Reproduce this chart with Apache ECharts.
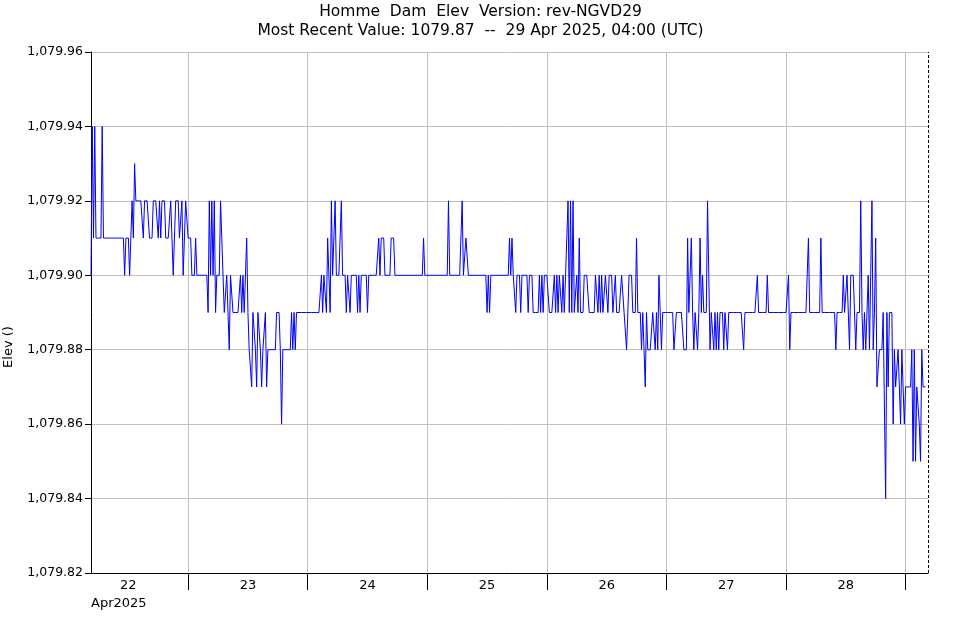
<!DOCTYPE html>
<html>
<head>
<meta charset="utf-8">
<script src="https://cdn.jsdelivr.net/npm/echarts@6/dist/echarts.min.js"></script>
<style>
html,body{margin:0;padding:0;background:#ffffff;}
#chart{width:961px;height:620px;}
</style>
</head>
<body>
<div id="chart"></div>
<script>
// ---------------- DATA ----------------
const titleLines = ['Homme  Dam  Elev  Version: rev-NGVD29', 'Most Recent Value: 1079.87  --  29 Apr 2025, 04:00 (UTC)'];
const yAxisName = 'Elev ()';
const monthLabel = 'Apr2025';
const axisStartUTC = '2025-04-22T04:30:00Z';
const axisEndUTC = '2025-04-29T04:30:00Z';
const seriesStartUTC = '2025-04-22T04:30:00Z';
const sampleMinutes = 15;
const dayBoundariesUTC = ['2025-04-23T00:00:00Z','2025-04-24T00:00:00Z','2025-04-25T00:00:00Z','2025-04-26T00:00:00Z','2025-04-27T00:00:00Z','2025-04-28T00:00:00Z','2025-04-29T00:00:00Z'];
const dayLabelTimesUTC = ['2025-04-22T12:00:00Z','2025-04-23T12:00:00Z','2025-04-24T12:00:00Z','2025-04-25T12:00:00Z','2025-04-26T12:00:00Z','2025-04-27T12:00:00Z','2025-04-28T12:00:00Z'];
const dayLabels = ['22','23','24','25','26','27','28'];
const yMin = 1079.82, yMax = 1079.96, yStep = 0.02;

// 15-minute elevations (ft), starting 22 Apr 2025 04:30 UTC
const elev = [
1079.90,1079.94,1079.91,1079.94,1079.91,1079.91,1079.91,1079.91,1079.91,1079.94,
1079.91,1079.91,1079.91,1079.91,1079.91,1079.91,1079.91,1079.91,1079.91,1079.91,
1079.91,1079.91,1079.91,1079.91,1079.91,1079.91,1079.91,1079.90,1079.91,1079.91,
1079.91,1079.90,1079.91,1079.92,1079.91,1079.93,1079.92,1079.92,1079.92,1079.92,
1079.92,1079.92,1079.91,1079.92,1079.92,1079.92,1079.92,1079.91,1079.91,1079.91,
1079.92,1079.92,1079.92,1079.92,1079.91,1079.92,1079.91,1079.92,1079.92,1079.92,
1079.91,1079.91,1079.91,1079.91,1079.92,1079.92,1079.90,1079.91,1079.92,1079.92,
1079.92,1079.91,1079.91,1079.92,1079.90,1079.90,1079.92,1079.92,1079.91,1079.91,
1079.91,1079.90,1079.90,1079.90,1079.91,1079.90,1079.90,1079.90,1079.90,1079.90,
1079.90,1079.90,1079.90,1079.90,1079.89,1079.92,1079.90,1079.92,1079.90,1079.92,
1079.89,1079.90,1079.90,1079.90,1079.92,1079.91,1079.91,1079.89,1079.89,1079.90,
1079.90,1079.88,1079.90,1079.90,1079.89,1079.89,1079.89,1079.89,1079.89,1079.89,
1079.90,1079.89,1079.90,1079.89,1079.89,1079.91,1079.89,1079.88,1079.88,1079.87,
1079.89,1079.89,1079.88,1079.87,1079.89,1079.89,1079.88,1079.87,1079.88,1079.88,
1079.89,1079.87,1079.88,1079.88,1079.88,1079.88,1079.88,1079.88,1079.88,1079.89,
1079.89,1079.89,1079.88,1079.86,1079.88,1079.88,1079.88,1079.88,1079.88,1079.88,
1079.88,1079.89,1079.88,1079.89,1079.88,1079.89,1079.89,1079.89,1079.89,1079.89,
1079.89,1079.89,1079.89,1079.89,1079.89,1079.89,1079.89,1079.89,1079.89,1079.89,
1079.89,1079.89,1079.89,1079.89,1079.89,1079.90,1079.89,1079.90,1079.90,1079.89,
1079.91,1079.90,1079.89,1079.92,1079.90,1079.90,1079.92,1079.90,1079.90,1079.90,
1079.90,1079.92,1079.90,1079.90,1079.90,1079.89,1079.90,1079.90,1079.89,1079.90,
1079.90,1079.90,1079.90,1079.90,1079.89,1079.90,1079.89,1079.90,1079.90,1079.90,
1079.90,1079.90,1079.89,1079.90,1079.90,1079.90,1079.90,1079.90,1079.90,1079.90,
1079.90,1079.91,1079.90,1079.91,1079.91,1079.91,1079.90,1079.90,1079.90,1079.90,
1079.90,1079.91,1079.91,1079.91,1079.90,1079.90,1079.90,1079.90,1079.90,1079.90,
1079.90,1079.90,1079.90,1079.90,1079.90,1079.90,1079.90,1079.90,1079.90,1079.90,
1079.90,1079.90,1079.90,1079.90,1079.90,1079.90,1079.90,1079.91,1079.90,1079.90,
1079.90,1079.90,1079.90,1079.90,1079.90,1079.90,1079.90,1079.90,1079.90,1079.90,
1079.90,1079.90,1079.90,1079.90,1079.90,1079.90,1079.90,1079.92,1079.90,1079.90,
1079.90,1079.90,1079.90,1079.90,1079.90,1079.90,1079.90,1079.90,1079.92,1079.90,
1079.90,1079.91,1079.91,1079.90,1079.90,1079.90,1079.90,1079.90,1079.90,1079.90,
1079.90,1079.90,1079.90,1079.90,1079.90,1079.90,1079.90,1079.90,1079.89,1079.90,
1079.89,1079.90,1079.90,1079.90,1079.90,1079.90,1079.90,1079.90,1079.90,1079.90,
1079.90,1079.90,1079.90,1079.90,1079.90,1079.90,1079.91,1079.90,1079.91,1079.90,
1079.90,1079.89,1079.90,1079.90,1079.90,1079.89,1079.90,1079.90,1079.90,1079.90,
1079.90,1079.89,1079.90,1079.90,1079.90,1079.89,1079.89,1079.89,1079.89,1079.89,
1079.90,1079.89,1079.90,1079.89,1079.90,1079.90,1079.90,1079.90,1079.89,1079.89,
1079.89,1079.89,1079.90,1079.89,1079.90,1079.89,1079.90,1079.90,1079.89,1079.90,
1079.89,1079.90,1079.91,1079.92,1079.89,1079.92,1079.89,1079.92,1079.89,1079.89,
1079.90,1079.89,1079.91,1079.89,1079.89,1079.89,1079.90,1079.90,1079.90,1079.90,
1079.89,1079.89,1079.89,1079.89,1079.89,1079.90,1079.90,1079.89,1079.90,1079.89,
1079.90,1079.89,1079.89,1079.90,1079.90,1079.89,1079.90,1079.90,1079.90,1079.89,
1079.89,1079.90,1079.89,1079.89,1079.89,1079.89,1079.90,1079.90,1079.89,1079.89,
1079.88,1079.89,1079.90,1079.90,1079.90,1079.89,1079.89,1079.89,1079.91,1079.89,
1079.89,1079.89,1079.88,1079.89,1079.88,1079.87,1079.89,1079.88,1079.88,1079.88,
1079.88,1079.89,1079.89,1079.88,1079.89,1079.88,1079.90,1079.89,1079.88,1079.89,
1079.89,1079.89,1079.89,1079.89,1079.89,1079.89,1079.89,1079.89,1079.88,1079.88,
1079.89,1079.89,1079.89,1079.89,1079.89,1079.89,1079.88,1079.88,1079.88,1079.91,
1079.89,1079.89,1079.91,1079.89,1079.88,1079.89,1079.89,1079.88,1079.89,1079.91,
1079.89,1079.90,1079.89,1079.89,1079.89,1079.92,1079.90,1079.88,1079.89,1079.89,
1079.88,1079.89,1079.88,1079.89,1079.88,1079.89,1079.89,1079.89,1079.88,1079.89,
1079.89,1079.88,1079.89,1079.89,1079.89,1079.89,1079.89,1079.89,1079.89,1079.89,
1079.89,1079.89,1079.89,1079.89,1079.88,1079.89,1079.89,1079.89,1079.89,1079.89,
1079.89,1079.89,1079.89,1079.89,1079.89,1079.90,1079.89,1079.89,1079.89,1079.89,
1079.89,1079.89,1079.89,1079.90,1079.89,1079.89,1079.89,1079.89,1079.89,1079.89,
1079.89,1079.89,1079.89,1079.89,1079.89,1079.89,1079.89,1079.89,1079.89,1079.89,
1079.90,1079.88,1079.89,1079.89,1079.89,1079.89,1079.89,1079.89,1079.89,1079.89,
1079.89,1079.89,1079.89,1079.89,1079.89,1079.89,1079.91,1079.89,1079.89,1079.89,
1079.89,1079.89,1079.89,1079.89,1079.89,1079.89,1079.91,1079.89,1079.89,1079.89,
1079.89,1079.89,1079.89,1079.89,1079.89,1079.89,1079.89,1079.89,1079.88,1079.89,
1079.89,1079.89,1079.89,1079.89,1079.90,1079.89,1079.89,1079.90,1079.90,1079.88,
1079.90,1079.90,1079.90,1079.90,1079.88,1079.89,1079.89,1079.89,1079.92,1079.89,
1079.88,1079.89,1079.88,1079.88,1079.90,1079.88,1079.90,1079.92,1079.88,1079.89,
1079.91,1079.87,1079.87,1079.88,1079.88,1079.88,1079.89,1079.89,1079.84,1079.89,
1079.87,1079.89,1079.89,1079.89,1079.86,1079.88,1079.87,1079.87,1079.88,1079.88,
1079.86,1079.88,1079.87,1079.86,1079.87,1079.87,1079.87,1079.87,1079.87,1079.88,
1079.85,1079.88,1079.85,1079.87,1079.87,1079.86,1079.85,1079.88,1079.87,1079.87,
1079.87
];

// ---------------- CHART ----------------
const t0 = Date.parse(seriesStartUTC);
const stepMs = sampleMinutes * 60000;
const seriesData = elev.map((v, i) => [t0 + i * stepMs, v]);
const xMin = Date.parse(axisStartUTC);
const xMax = Date.parse(axisEndUTC);
const tickVals = dayBoundariesUTC.map(s => Date.parse(s));
const labelVals = dayLabelTimesUTC.map(s => Date.parse(s));

const FONT = 'DejaVu Sans';
const chart = echarts.init(document.getElementById('chart'), null, {renderer: 'canvas'});
chart.setOption({
  animation: false,
  backgroundColor: '#ffffff',
  grid: {left: 91, right: 33, top: 52, bottom: 47, containLabel: false},
  xAxis: {
    type: 'value',
    min: xMin,
    max: xMax,
    axisLine: {show: true, lineStyle: {color: '#000', width: 1}},
    axisTick: {show: true, length: 17, lineStyle: {color: '#000'}, customValues: tickVals},
    axisLabel: {
      show: true, customValues: labelVals, margin: 6,
      fontFamily: FONT, fontSize: 13, color: '#000',
      formatter: function (v) {
        const idx = labelVals.indexOf(v);
        return idx >= 0 ? dayLabels[idx] : '';
      }
    },
    splitLine: {show: true, lineStyle: {color: '#c0c0c0', width: 1}}
  },
  yAxis: {
    type: 'value',
    min: yMin,
    max: yMax,
    interval: yStep,
    axisLine: {show: true, lineStyle: {color: '#000', width: 1}},
    axisTick: {show: true, length: 6, lineStyle: {color: '#000'}},
    axisLabel: {
      fontFamily: FONT, fontSize: 12.5, color: '#000', margin: 8,
      formatter: v => v.toLocaleString('en-US', {minimumFractionDigits: 2, maximumFractionDigits: 2})
    },
    splitLine: {show: true, lineStyle: {color: '#c0c0c0', width: 1}}
  },
  graphic: [
    {type: 'text', x: 480.5, y: 12, style: {text: titleLines[0], font: '15.5px "DejaVu Sans"', fill: '#000', align: 'center', verticalAlign: 'middle'}},
    {type: 'text', x: 480.5, y: 31, style: {text: titleLines[1], font: '15.5px "DejaVu Sans"', fill: '#000', align: 'center', verticalAlign: 'middle'}},
    {type: 'text', left: 91, top: 597, style: {text: monthLabel, font: '13px "DejaVu Sans"', fill: '#000'}},
    {type: 'text', x: 9, y: 347, rotation: Math.PI / 2,
     style: {text: yAxisName, font: '13px "DejaVu Sans"', fill: '#000', align: 'center', verticalAlign: 'middle'}}
  ],
  series: [{
    type: 'line',
    data: seriesData,
    showSymbol: false,
    symbol: 'none',
    lineStyle: {color: '#0000ff', width: 1},
    silent: true,
    markLine: {
      silent: true, symbol: 'none', animation: false,
      label: {show: false},
      lineStyle: {color: '#000', type: [3, 2], width: 1},
      data: [{xAxis: xMax}]
    }
  }]
});
</script>
</body>
</html>
